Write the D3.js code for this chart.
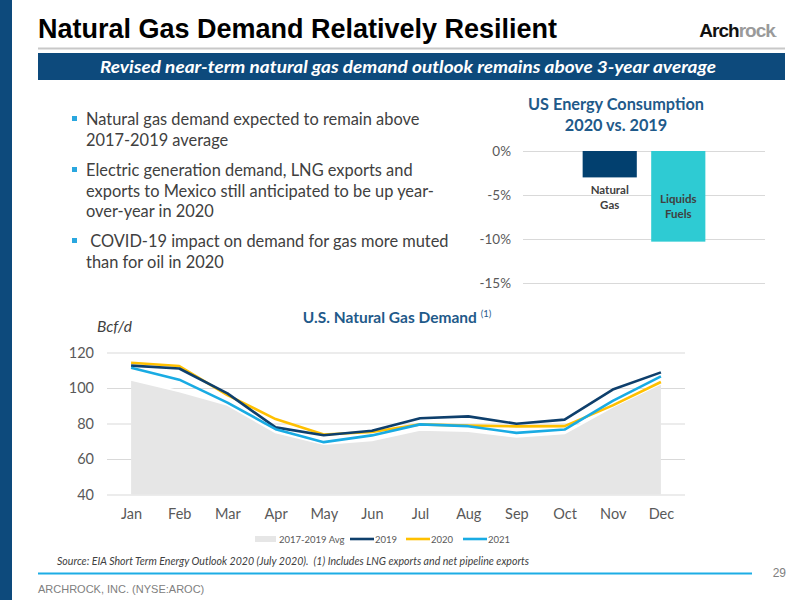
<!DOCTYPE html>
<html>
<head>
<meta charset="utf-8">
<script src="https://cdn.jsdelivr.net/npm/d3@7"></script>
<style>
  html, body { margin: 0; padding: 0; background: #fff; }
  svg { display: block; }
</style>
</head>
<body>
<svg id="slide" width="800" height="600"></svg>
<script>
// bar chart data
const barCats = ["Natural Gas", "Liquids Fuels"];
const barVals = [-3.0, -10.3];
const barTicks = [0, -5, -10, -15];

// line chart data (Bcf/d)
const months = ["Jan", "Feb", "Mar", "Apr", "May", "Jun", "Jul", "Aug", "Sep", "Oct", "Nov", "Dec"];
const avg1719 = [104.7, 98.2, 90.5, 75.0, 68.5, 70.5, 76.5, 75.8, 72.6, 74.5, 89.5, 102.5];
const y2019 = [112.6, 111.0, 97.0, 77.8, 73.4, 75.9, 83.0, 84.0, 79.9, 82.2, 99.1, 108.8];
const y2020 = [114.2, 112.4, 96.0, 82.5, 73.8, 75.2, 79.5, 78.8, 78.4, 78.5, 90.2, 103.4];
const y2021 = [111.4, 104.7, 91.8, 76.8, 69.5, 73.3, 79.5, 78.5, 74.7, 76.6, 92.7, 106.6];
const lineTicks = [40, 60, 80, 100, 120];

const bullets = [
  ["Natural gas demand expected to remain above", "2017-2019 average"],
  ["Electric generation demand, LNG exports and", "exports to Mexico still anticipated to be up year-", "over-year in 2020"],
  [" COVID-19 impact on demand for gas more muted", "than for oil in 2020"]
];

const navy = "#0d4a7c";
const calibri = "Lato, 'Open Sans', sans-serif";
const arial = "'Liberation Sans', Arial, sans-serif";

const svg = d3.select("#slide");

// ---- slide frame ----
svg.append("rect").attr("x", 0).attr("y", 0).attr("width", 12).attr("height", 600).attr("fill", navy);

svg.append("text")
  .attr("x", 38).attr("y", 38)
  .attr("font-family", arial).attr("font-weight", "bold").attr("font-size", 27)
  .attr("textLength", 519).attr("lengthAdjust", "spacingAndGlyphs")
  .attr("fill", "#000")
  .text("Natural Gas Demand Relatively Resilient");

const logo = svg.append("text")
  .attr("x", 776).attr("y", 37)
  .attr("text-anchor", "end")
  .attr("font-family", arial).attr("font-weight", "bold").attr("font-size", 19)
  .attr("letter-spacing", -1);
logo.append("tspan").attr("fill", "#111").text("Arch");
logo.append("tspan").attr("fill", "#9a9a9a").text("rock");
logo.append("tspan").attr("fill", "#9a9a9a").attr("font-size", 8).text(".");

svg.append("line")
  .attr("x1", 38).attr("x2", 785).attr("y1", 48.5).attr("y2", 48.5)
  .attr("stroke", "#c8c8c8").attr("stroke-width", 2);

svg.append("rect").attr("x", 38).attr("y", 53).attr("width", 747).attr("height", 27).attr("fill", navy);
svg.append("text")
  .attr("x", 100).attr("y", 72.5)
  .attr("font-family", calibri).attr("font-weight", "bold").attr("font-style", "italic").attr("font-size", 17)
  .attr("textLength", 616).attr("lengthAdjust", "spacingAndGlyphs")
  .attr("fill", "#fff")
  .text("Revised near-term natural gas demand outlook remains above 3-year average");

// ---- bullets ----
const bulletTop = [125, 176, 247];
bullets.forEach((lines, i) => {
  svg.append("rect")
    .attr("x", 72).attr("y", bulletTop[i] - 9)
    .attr("width", 5).attr("height", 5)
    .attr("fill", "#2aa7df");
  lines.forEach((t, j) => {
    svg.append("text")
      .attr("x", 86).attr("y", bulletTop[i] + j * 20.5)
      .attr("font-family", calibri).attr("font-size", 16.4)
      .attr("fill", "#404040")
      .attr("xml:space", "preserve")
      .style("white-space", "pre")
      .text(t);
  });
});

// ---- bar chart: US Energy Consumption ----
svg.append("text")
  .attr("x", 616).attr("y", 110).attr("text-anchor", "middle")
  .attr("font-family", calibri).attr("font-weight", "bold").attr("font-size", 16.3)
  .attr("fill", "#1f5a8a")
  .text("US Energy Consumption");
svg.append("text")
  .attr("x", 616).attr("y", 131).attr("text-anchor", "middle")
  .attr("font-family", calibri).attr("font-weight", "bold").attr("font-size", 16.3)
  .attr("fill", "#1f5a8a")
  .text("2020 vs. 2019");

const bx = d3.scaleBand().domain(barCats).range([523, 765]).paddingInner(0.21).paddingOuter(0.87);
const by = d3.scaleLinear().domain([-15, 0]).range([283, 151]);

const barAxis = svg.append("g")
  .attr("transform", "translate(523,0)")
  .call(d3.axisLeft(by).tickValues(barTicks).tickSize(-242).tickFormat(d => d + "%"));
barAxis.select(".domain").remove();
barAxis.selectAll(".tick line").attr("stroke", "#d9d9d9");
barAxis.selectAll(".tick text")
  .attr("x", -12)
  .attr("font-family", calibri).attr("font-size", 13.5).attr("fill", "#595959");

const barColors = ["#02406f", "#2ecbd3"];
svg.append("g").selectAll("rect")
  .data(barVals)
  .join("rect")
  .attr("x", (d, i) => bx(barCats[i]))
  .attr("width", bx.bandwidth())
  .attr("y", by(0))
  .attr("height", d => by(d) - by(0))
  .attr("fill", (d, i) => barColors[i]);

// category labels
const barLabelY = [[194, 209], [203, 218]];
barCats.forEach((c, i) => {
  c.split(" ").forEach((w, j) => {
    svg.append("text")
      .attr("x", bx(c) + bx.bandwidth() / 2)
      .attr("y", barLabelY[i][j])
      .attr("text-anchor", "middle")
      .attr("font-family", calibri).attr("font-weight", "bold").attr("font-size", 11.5)
      .attr("fill", "#404040")
      .text(w);
  });
});

// ---- line chart: U.S. Natural Gas Demand ----
const lt = svg.append("text")
  .attr("x", 397).attr("y", 323).attr("text-anchor", "middle")
  .attr("font-family", calibri).attr("font-weight", "bold").attr("font-size", 15.5)
  .attr("fill", "#1f5a8a");
lt.append("tspan").text("U.S. Natural Gas Demand ");
lt.append("tspan").attr("font-weight", "normal").attr("font-size", 9.5).attr("dy", -6).text("(1)");

svg.append("text")
  .attr("x", 97).attr("y", 332)
  .attr("font-family", calibri).attr("font-style", "italic").attr("font-size", 15.5)
  .attr("fill", "#404040")
  .text("Bcf/d");

const lx = d3.scalePoint().domain(months).range([107, 685]).padding(0.5);
const ly = d3.scaleLinear().domain([40, 120]).range([494.5, 352.5]);

const yAx = svg.append("g")
  .attr("transform", "translate(107,0)")
  .call(d3.axisLeft(ly).tickValues(lineTicks).tickSize(-578));
yAx.select(".domain").remove();
yAx.selectAll(".tick line").attr("stroke", "#d9d9d9");
yAx.selectAll(".tick text")
  .attr("x", -13)
  .attr("font-family", calibri).attr("font-size", 14.5).attr("fill", "#595959");

const xAx = svg.append("g")
  .attr("transform", "translate(0,494.5)")
  .call(d3.axisBottom(lx).tickSize(0).tickPadding(14));
xAx.select(".domain").remove();
xAx.selectAll(".tick text")
  .attr("font-family", calibri).attr("font-size", 14.5).attr("fill", "#595959");

const area = d3.area()
  .x((d, i) => lx(months[i]))
  .y0(ly(40))
  .y1(d => ly(d));
svg.append("path")
  .datum(avg1719)
  .attr("d", area)
  .attr("fill", "#e6e6e6");
svg.append("path")
  .datum(avg1719)
  .attr("d", d3.line().x((d, i) => lx(months[i])).y(d => ly(d)))
  .attr("fill", "none")
  .attr("stroke", "#fff")
  .attr("stroke-width", 2);

const series = [
  { name: "2019", values: y2019, color: "#0e3f6c" },
  { name: "2020", values: y2020, color: "#ffc000" },
  { name: "2021", values: y2021, color: "#19abe3" }
];
const line = d3.line().x((d, i) => lx(months[i])).y(d => ly(d));
// draw 2020 first so 2019 and 2021 sit on top like the original
[series[1], series[0], series[2]].forEach(s => {
  svg.append("path")
    .datum(s.values)
    .attr("d", line)
    .attr("fill", "none")
    .attr("stroke", s.color)
    .attr("stroke-width", 2.6)
    .attr("stroke-linejoin", "round");
});

// legend
const lg = svg.append("g").attr("font-family", calibri).attr("font-size", 9.5).attr("fill", "#595959");
lg.append("rect").attr("x", 255).attr("y", 536).attr("width", 21).attr("height", 6).attr("fill", "#e6e6e6");
lg.append("text").attr("x", 279).attr("y", 542.5).text("2017-2019 Avg");
const legX = [350, 406, 463];
series.forEach((s, i) => {
  lg.append("line")
    .attr("x1", legX[i]).attr("x2", legX[i] + 24)
    .attr("y1", 539).attr("y2", 539)
    .attr("stroke", s.color).attr("stroke-width", 2.6);
  lg.append("text").attr("x", legX[i] + 25).attr("y", 542.5).text(s.name);
});

// ---- footer ----
svg.append("text")
  .attr("x", 57).attr("y", 565)
  .attr("font-family", calibri).attr("font-style", "italic").attr("font-size", 10.6)
  .attr("fill", "#404040")
  .attr("xml:space", "preserve")
  .style("white-space", "pre")
  .text("Source: EIA Short Term Energy Outlook 2020 (July 2020).  (1) Includes LNG exports and net pipeline exports");

svg.append("line")
  .attr("x1", 38).attr("x2", 752).attr("y1", 573.5).attr("y2", 573.5)
  .attr("stroke", "#1dade5").attr("stroke-width", 2);

svg.append("text")
  .attr("x", 786).attr("y", 577).attr("text-anchor", "end")
  .attr("font-family", arial).attr("font-size", 12).attr("fill", "#808080")
  .text("29");

svg.append("text")
  .attr("x", 38).attr("y", 593)
  .attr("font-family", arial).attr("font-size", 11).attr("fill", "#808080")
  .text("ARCHROCK, INC. (NYSE:AROC)");
</script>
</body>
</html>
